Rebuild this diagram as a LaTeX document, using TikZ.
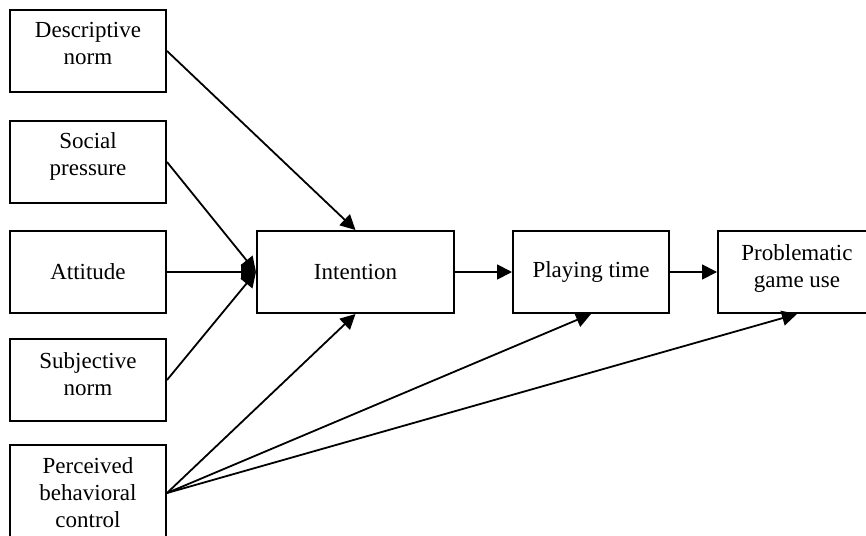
\documentclass[tikz,border=0pt]{standalone}
\usepackage{fontspec}
\setmainfont{Liberation Serif}
\usetikzlibrary{arrows.meta}
\begin{document}
\begin{tikzpicture}[x=1pt,y=-1pt,
  box/.style={draw, line width=2pt, minimum width=156pt, minimum height=82pt,
    inner sep=0pt, font=\fontsize{23}{27}\selectfont},
  boxtext/.style={anchor=north, inner sep=0pt, align=center,
    font=\fontsize{23}{27}\selectfont},
  link/.style={line width=1.8pt, -{Triangle[length=15pt,width=15pt]}}]
  \useasboundingbox (0,0) rectangle (866,535);
  \clip (0,0) rectangle (866,535);

  % predictors on the left
  \node[box] (desc) at (88,51) {};
  \node[boxtext] (desct) at ([yshift=-13pt]desc.north) {Descriptive\\norm};
  \node[box] (soc) at (88,162) {};
  \node[boxtext] (soct) at ([yshift=-12pt]soc.north) {Social\\pressure};
  \node[box] (att) at (88,272) {Attitude};
  \node[box] (subj) at (88,380) {};
  \node[boxtext] (subjt) at ([yshift=-14pt]subj.north) {Subjective\\norm};
  \node[box, minimum height=96pt] (pbc) at (88,493) {};
  \node[boxtext] (pbct) at ([yshift=-13pt]pbc.north) {Perceived\\behavioral\\control};

  % outcome chain
  \node[box, minimum width=197pt] (int) at (355.5,272) {Intention};
  \node[box] (play) at (591,272) {Playing time};
  \node[box, minimum width=158pt] (prob) at (797,272) {};
  \node[boxtext] (probt) at ([yshift=-14pt]prob.north) {Problematic\\game use};

  % paths
  \draw[link] (desc.east) -- (int.north);
  \draw[link] (soc.east) -- (int.west);
  \draw[link] (att.east) -- (int.west);
  \draw[link] (subj.east) -- (int.west);
  \draw[link] (pbc.east) -- (int.south);
  \draw[link] (pbc.east) -- (play.south);
  \draw[link] (pbc.east) -- (prob.south);
  \draw[link] (int.east) -- (play.west);
  \draw[link] (play.east) -- (prob.west);
\end{tikzpicture}
\end{document}
